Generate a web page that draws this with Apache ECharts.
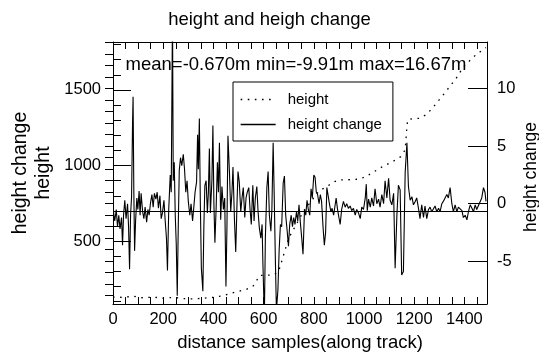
<!DOCTYPE html>
<html>
<head>
<meta charset="utf-8">
<script src="https://cdn.jsdelivr.net/npm/echarts@6/dist/echarts.min.js"></script>
<style>html,body{margin:0;padding:0;background:#fff}#c{width:539px;height:358px}</style>
</head>
<body>
<div id="c"></div>
<script>
// ---- data ----
const titleText = 'height and heigh change';
const xName = 'distance samples(along track)';
const leftName = 'height';
const changeName = 'height change';
const meanVal = -0.670, minVal = -9.91, maxVal = 16.67;
const xTickLabels = [0, 200, 400, 600, 800, 1000, 1200, 1400];
const leftTickLabels = [500, 1000, 1500];
const rightTickLabels = [-5, 0, 5, 10];

// height (dotted line, left axis): [sample, height]
const height = [
  [0,130],[40,128],[80,135],[120,125],[160,130],[200,122],[240,128],[280,120],[320,118],
  [360,122],[400,128],[440,140],[470,155],[497,167],[530,180],[557,200],[570,232],[583,272],
  [610,275],[640,276],[660,300],[700,520],[760,700],[820,830],[870,880],[883,893],[902,905],
  [940,906],[982,910],[1008,927],[1041,960],[1074,993],[1114,1026],[1147,1059],[1164,1104],
  [1170,1237],[1174,1303],[1194,1310],[1220,1312],[1247,1336],[1273,1380],[1300,1436],
  [1327,1491],[1353,1547],[1373,1590],[1393,1646],[1419,1690],[1446,1733],[1466,1756],[1486,1780]
];

// height change (solid line, right axis): [sample, change]
const heightChange = [
  [2,-0.7],[7,-1.5],[13,-0.5],[18,-2.0],[23,-1.0],[28,-2.2],[34,-1.2],[38,-3.6],[42,-1.0],[47,0.3],
  [52,-1.3],[58,0.0],[62,-2.0],[66,-5.7],[70,-1.0],[74,0.6],[78,7.2],[80,9.3],[83,1.0],[86,-4.1],
  [90,-1.5],[95,0.5],[99,-0.5],[104,1.1],[108,-1.0],[112,0.9],[118,-0.7],[123,-1.3],[128,-0.3],[134,-1.6],
  [139,-0.5],[144,-1.0],[149,0.0],[155,0.8],[160,-0.3],[165,0.9],[171,0.4],[176,1.0],[181,-0.4],[187,0.7],
  [192,-1.3],[197,-0.8],[203,0.3],[208,-1.5],[213,-3.0],[217,-5.8],[222,-0.5],[228,2.5],[232,1.0],[237,16.67],
  [240,2.0],[244,3.6],[248,-1.0],[252,-3.5],[256,-8.0],[260,-2.0],[264,2.9],[269,4.0],[274,3.3],[280,4.3],
  [285,3.0],[290,1.0],[295,2.0],[300,0.2],[306,-1.0],[311,0.0],[317,-1.5],[322,-0.3],[327,1.0],[333,1.9],
  [337,6.0],[340,3.0],[344,7.4],[348,0.0],[352,-5.6],[358,-7.6],[362,-2.0],[366,1.6],[371,2.0],[376,-0.8],
  [380,1.0],[384,4.8],[388,-0.8],[394,2.0],[398,6.8],[402,0.0],[406,-3.4],[411,-0.3],[416,3.6],[420,1.0],
  [424,5.3],[429,-1.4],[434,1.5],[440,-0.5],[445,0.5],[450,-7.2],[454,-2.0],[458,5.9],[464,2.7],[469,-0.7],
  [474,1.0],[478,3.2],[484,-1.5],[489,-4.2],[494,0.0],[498,2.8],[503,1.9],[509,-0.7],[514,0.5],[519,1.4],
  [525,-1.2],[530,0.5],[535,1.0],[541,1.4],[546,-0.5],[551,-1.8],[557,1.6],[562,-1.5],[567,0.5],[573,1.5],
  [578,-0.7],[583,-2.1],[589,-3.0],[594,-1.8],[597,-5.0],[603,-9.91],[607,-3.0],[613,1.4],[618,2.8],[623,-1.0],
  [629,-2.4],[633,-0.5],[638,5.3],[642,1.0],[647,-5.0],[651,-9.3],[657,-7.5],[662,-4.0],[667,-1.8],[672,-2.0],
  [678,1.8],[683,2.4],[688,-1.0],[694,-2.4],[699,-3.7],[704,-1.8],[710,-1.0],[715,-2.0],[720,-1.2],[725,-1.8],
  [731,-0.7],[736,-1.5],[741,-0.1],[747,-1.8],[752,-3.0],[757,-4.4],[763,-0.5],[768,-1.0],[773,0.3],[778,-0.5],
  [784,-1.0],[789,1.3],[794,0.5],[800,2.5],[805,2.3],[810,1.0],[815,0.8],[821,0.0],[826,0.8],[831,0.2],
  [837,-2.1],[842,-3.6],[847,-2.5],[852,1.4],[858,1.3],[863,-0.1],[868,-0.7],[873,-0.4],[879,-1.0],[884,-0.9],
  [889,0.5],[894,-0.4],[900,-1.2],[905,-1.8],[911,-0.5],[918,0.2],[925,-0.3],[931,0.0],[938,-0.4],[945,-0.2],
  [951,-0.6],[958,-0.4],[965,-1.0],[971,-0.5],[978,-0.8],[985,-1.3],[991,-0.3],[998,-0.5],[1005,0.5],[1009,1.7],
  [1013,-0.6],[1018,0.4],[1025,-0.3],[1031,0.5],[1038,-0.2],[1044,1.3],[1051,0.0],[1058,0.4],[1064,-0.3],[1071,0.8],
  [1078,0.0],[1084,2.0],[1091,0.5],[1098,2.2],[1104,0.3],[1111,-0.1],[1118,0.9],[1124,-5.6],[1131,-1.0],[1137,1.6],
  [1144,1.2],[1150,-6.2],[1157,-5.9],[1164,2.7],[1171,5.3],[1177,1.5],[1184,0.3],[1191,0.6],[1197,-0.1],[1204,0.2],
  [1210,0.5],[1217,-0.4],[1223,-1.3],[1230,-0.1],[1237,-1.2],[1243,-0.2],[1250,-1.3],[1257,-0.5],[1263,-0.3],[1270,-0.7],
  [1276,-0.6],[1283,-0.2],[1290,-0.7],[1297,-0.4],[1303,-0.7],[1310,0.0],[1316,0.2],[1323,0.5],[1330,0.8],[1336,0.5],
  [1343,1.4],[1350,0.0],[1356,-0.7],[1363,-0.1],[1370,-0.7],[1376,-0.3],[1383,-0.4],[1390,-0.6],[1396,-1.2],[1403,-1.0],
  [1410,-1.4],[1416,-0.7],[1423,-0.1],[1430,-0.4],[1436,-0.7],[1443,-0.1],[1449,-0.5],[1456,-0.4],[1463,0.2],[1469,0.5],
  [1476,1.4],[1482,1.0],[1486,0.2]
];

// ---- chart ----
const FONT = '"Liberation Sans", Arial, Helvetica, sans-serif';
const BLACK = '#000';
const X_MIN = 0, X_MAX = 1490;
const L_MIN = 84, L_MAX = 1817;
const R_MIN = -8.72, R_MAX = 14.06;

function range(a, b, s) { const r = []; for (let v = a; v <= b + 1e-9; v += s) r.push(+v.toFixed(6)); return r; }
const xMinorTicks = range(0, 1450, 50);
const leftMinorTicks = range(100, 1800, 100);
const rightMinorTicks = range(-8, 14, 1);

const chart = echarts.init(document.getElementById('c'), null, {renderer: 'canvas'});
const lbl = {color: BLACK, fontFamily: FONT, fontSize: 16.5};
const nameStyle = {color: BLACK, fontFamily: FONT, fontSize: 18.5};
const hiddenAxisBits = {splitLine: {show: false}, minorSplitLine: {show: false}};

chart.setOption({
  animation: false,
  backgroundColor: '#fff',
  title: {
    text: titleText, left: 'center', top: 5,
    textStyle: {color: BLACK, fontFamily: FONT, fontSize: 18.5, fontWeight: 'normal'}
  },
  grid: {left: 113, right: 52, top: 42, bottom: 54, containLabel: false, outerBoundsMode: 'none'},
  legend: {
    left: 233, top: 82, orient: 'vertical',
    data: ['height', 'height change'],
    backgroundColor: '#fff', borderColor: BLACK, borderWidth: 1,
    padding: [10, 11, 9, 7], itemGap: 10, itemWidth: 35, itemHeight: 14,
    itemStyle: {opacity: 0},
    lineStyle: {width: 1.3},
    textStyle: {color: BLACK, fontFamily: FONT, fontSize: 15, padding: [0, 0, 0, 7]}
  },
  xAxis: [
    Object.assign({
      type: 'value', min: X_MIN, max: X_MAX, position: 'bottom',
      axisLine: {show: true, onZero: false, lineStyle: {color: BLACK, width: 1}},
      axisTick: {show: true, inside: true, length: 7, customValues: xMinorTicks, lineStyle: {color: BLACK}},
      axisLabel: {show: true, margin: 7, customValues: xTickLabels, formatter: v => String(v), ...lbl},
      name: xName, nameLocation: 'middle', nameGap: 29, nameTextStyle: nameStyle
    }, hiddenAxisBits),
    Object.assign({
      type: 'value', min: X_MIN, max: X_MAX, position: 'top',
      axisLine: {show: true, onZero: false, lineStyle: {color: BLACK, width: 1}},
      axisTick: {show: true, inside: true, length: 7, customValues: xMinorTicks, lineStyle: {color: BLACK}},
      axisLabel: {show: false}
    }, hiddenAxisBits)
  ],
  yAxis: [
    Object.assign({
      type: 'value', min: L_MIN, max: L_MAX, position: 'left',
      axisLine: {show: true, onZero: false, lineStyle: {color: BLACK, width: 1}},
      axisTick: {show: true, inside: true, length: 18, customValues: leftTickLabels, lineStyle: {color: BLACK}},
      axisLabel: {show: true, margin: 12, customValues: leftTickLabels, formatter: v => String(v), ...lbl},
      name: leftName, nameLocation: 'middle', nameGap: 50,
      nameTextStyle: {color: BLACK, fontFamily: FONT, fontSize: 19.5}
    }, hiddenAxisBits),
    Object.assign({
      type: 'value', min: L_MIN, max: L_MAX, position: 'left',
      axisLine: {show: false},
      axisTick: {show: true, inside: true, length: 8, customValues: leftMinorTicks, lineStyle: {color: BLACK}},
      axisLabel: {show: false}
    }, hiddenAxisBits),
    Object.assign({
      type: 'value', min: R_MIN, max: R_MAX, position: 'right',
      axisLine: {show: true, onZero: false, lineStyle: {color: BLACK, width: 1}},
      axisTick: {show: true, inside: true, length: 19, customValues: rightTickLabels, lineStyle: {color: BLACK}},
      axisLabel: {show: true, margin: 10, customValues: rightTickLabels, formatter: v => String(v), ...lbl}
    }, hiddenAxisBits),
    Object.assign({
      type: 'value', min: R_MIN, max: R_MAX, position: 'right',
      axisLine: {show: false},
      axisTick: {show: true, inside: true, length: 8, customValues: rightMinorTicks, lineStyle: {color: BLACK}},
      axisLabel: {show: false}
    }, hiddenAxisBits)
  ],
  series: [
    {
      name: 'height', type: 'line', xAxisIndex: 0, yAxisIndex: 0,
      data: height, showSymbol: false, symbol: 'none', clip: true,
      lineStyle: {color: BLACK, width: 1.3, type: [1.6, 5.5]}, itemStyle: {color: BLACK}
    },
    {
      name: 'height change', type: 'line', xAxisIndex: 0, yAxisIndex: 2,
      data: heightChange, showSymbol: false, symbol: 'none', clip: true,
      lineStyle: {color: BLACK, width: 1.1}, itemStyle: {color: BLACK},
      markLine: {
        silent: true, symbol: 'none', label: {show: false},
        lineStyle: {color: BLACK, width: 1.1, type: 'solid'},
        data: [{yAxis: meanVal}]
      }
    }
  ],
  graphic: [
    {
      type: 'text', x: 21, y: 173, rotation: Math.PI / 2,
      style: {text: changeName, fill: BLACK, font: '19.5px ' + FONT, align: 'center', verticalAlign: 'middle'}
    },
    {
      type: 'text', x: 531, y: 177, rotation: Math.PI / 2,
      style: {text: changeName, fill: BLACK, font: '17.5px ' + FONT, align: 'center', verticalAlign: 'middle'}
    },
    {
      type: 'text', x: 296, y: 65,
      style: {
        text: 'mean=' + meanVal.toFixed(3) + 'm min=' + minVal.toFixed(2) + 'm max=' + maxVal.toFixed(2) + 'm',
        fill: BLACK, font: '18.5px ' + FONT, align: 'center', verticalAlign: 'middle'
      }
    }
  ]
});
</script>
</body>
</html>
